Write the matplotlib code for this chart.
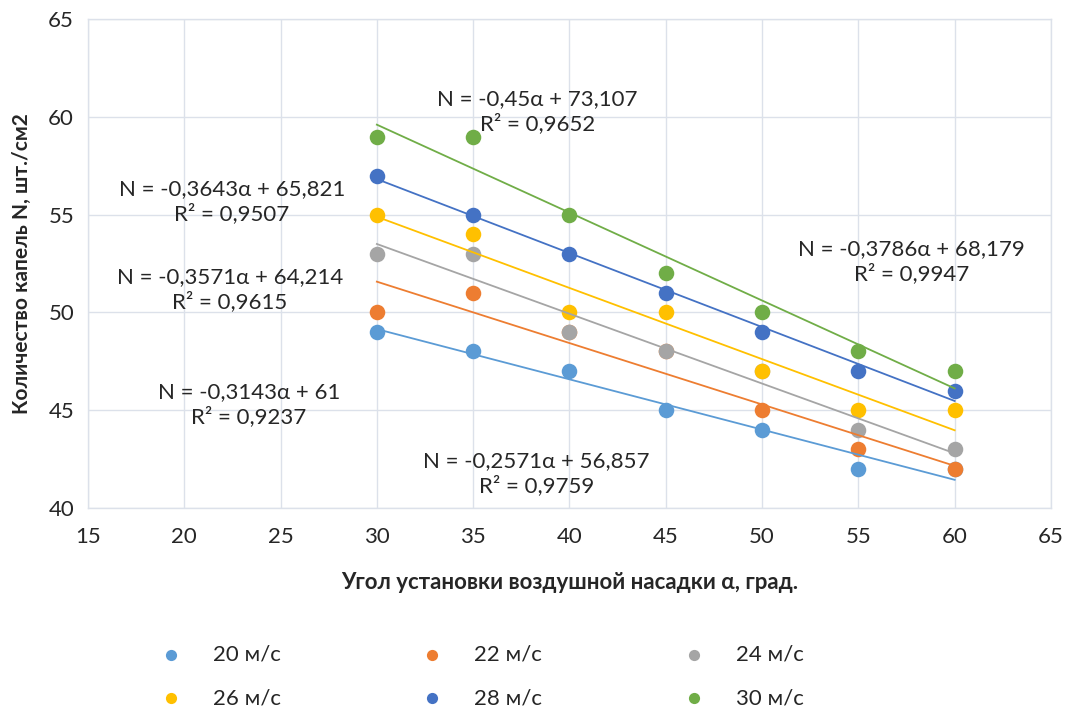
import numpy as np
import matplotlib
matplotlib.use("Agg")
import matplotlib.pyplot as plt

plt.rcParams['font.family'] = ['Lato', 'Noto Sans', 'DejaVu Sans']

# Angle of the air nozzle, degrees
angles = [30, 35, 40, 45, 50, 55, 60]

# Droplet count N (pcs/cm2) for each air speed
n_20 = [49, 48, 47, 45, 44, 42, 42]
n_22 = [50, 51, 49, 48, 45, 43, 42]
n_24 = [53, 53, 49, 48, 47, 44, 43]
n_26 = [55, 54, 50, 50, 47, 45, 45]
n_28 = [57, 55, 53, 51, 49, 47, 46]
n_30 = [59, 59, 55, 52, 50, 48, 47]

series_labels = ['20 м/с', '22 м/с', '24 м/с', '26 м/с', '28 м/с', '30 м/с']
series_values = [n_20, n_22, n_24, n_26, n_28, n_30]
colors = ['#5B9BD5', '#ED7D31', '#A5A5A5', '#FFC000', '#4472C4', '#70AD47']

# Where each trend equation is written (data coordinates)
label_pos = [(38.3, 41.74), (23.36, 45.28), (22.37, 51.17),
             (22.47, 55.68), (57.76, 52.6), (38.35, 60.29)]

xticks = [15, 20, 25, 30, 35, 40, 45, 50, 55, 60, 65]
yticks = [40, 45, 50, 55, 60, 65]


def fmt(v, nd):
    s = f"{v:.{nd}f}".rstrip('0').rstrip('.')
    return s.replace('.', ',')


fig = plt.figure(figsize=(10.7, 7.1), dpi=100)
ax = fig.add_axes([0.0822, 0.2849, 0.9, 0.6879])

x = np.array(angles, dtype=float)
handles = []
for vals, lab, col, pos in zip(series_values, series_labels, colors, label_pos):
    y = np.array(vals, dtype=float)
    k, b = np.polyfit(x, y, 1)
    pred = k * x + b
    r2 = 1 - np.sum((y - pred) ** 2) / np.sum((y - y.mean()) ** 2)
    h = ax.scatter(x, y, s=125, color=col, zorder=3, label=lab, linewidths=0)
    handles.append(h)
    xs = np.array([x.min(), x.max()])
    ax.plot(xs, k * xs + b, color=col, lw=1.3, zorder=4)
    txt = f"N = {fmt(k, 4)}α + {fmt(b, 3)}\nR² = {fmt(r2, 4)}"
    ax.text(pos[0], pos[1], txt, ha='center', va='center', fontsize=16,
            color='#262626', linespacing=1.25, zorder=5)

ax.set_xlim(15, 65)
ax.set_ylim(40, 65)
ax.set_xticks(xticks)
ax.set_yticks(yticks)
ax.tick_params(axis='x', length=0, labelsize=16, colors='#262626', pad=14)
ax.tick_params(axis='y', length=0, labelsize=16, colors='#262626', pad=10)
ax.grid(True, color='#DCE1EA', lw=1.0)
ax.set_axisbelow(True)
for side, sp in ax.spines.items():
    sp.set_color('#DCE1EA')
    sp.set_linewidth(1.0)

ax.set_xlabel('Угол установки воздушной насадки α, град.', fontsize=16,
              fontweight='bold', color='#262626', labelpad=18)
ax.set_ylabel('Количество капель N, шт./см2', fontsize=15,
              fontweight='bold', color='#262626', labelpad=12)

# legend filled row by row: 20 22 24 / 26 28 30
order = [0, 3, 1, 4, 2, 5]
fig.legend(handles=[handles[i] for i in order],
           labels=[series_labels[i] for i in order], loc='center',
           bbox_to_anchor=(0.445, 0.047), ncol=3, frameon=False, fontsize=16,
           columnspacing=5.8, handletextpad=0.9, labelspacing=1.05,
           markerscale=0.72, labelcolor='#262626')

fig.savefig('out.png', dpi=100, facecolor='white')
